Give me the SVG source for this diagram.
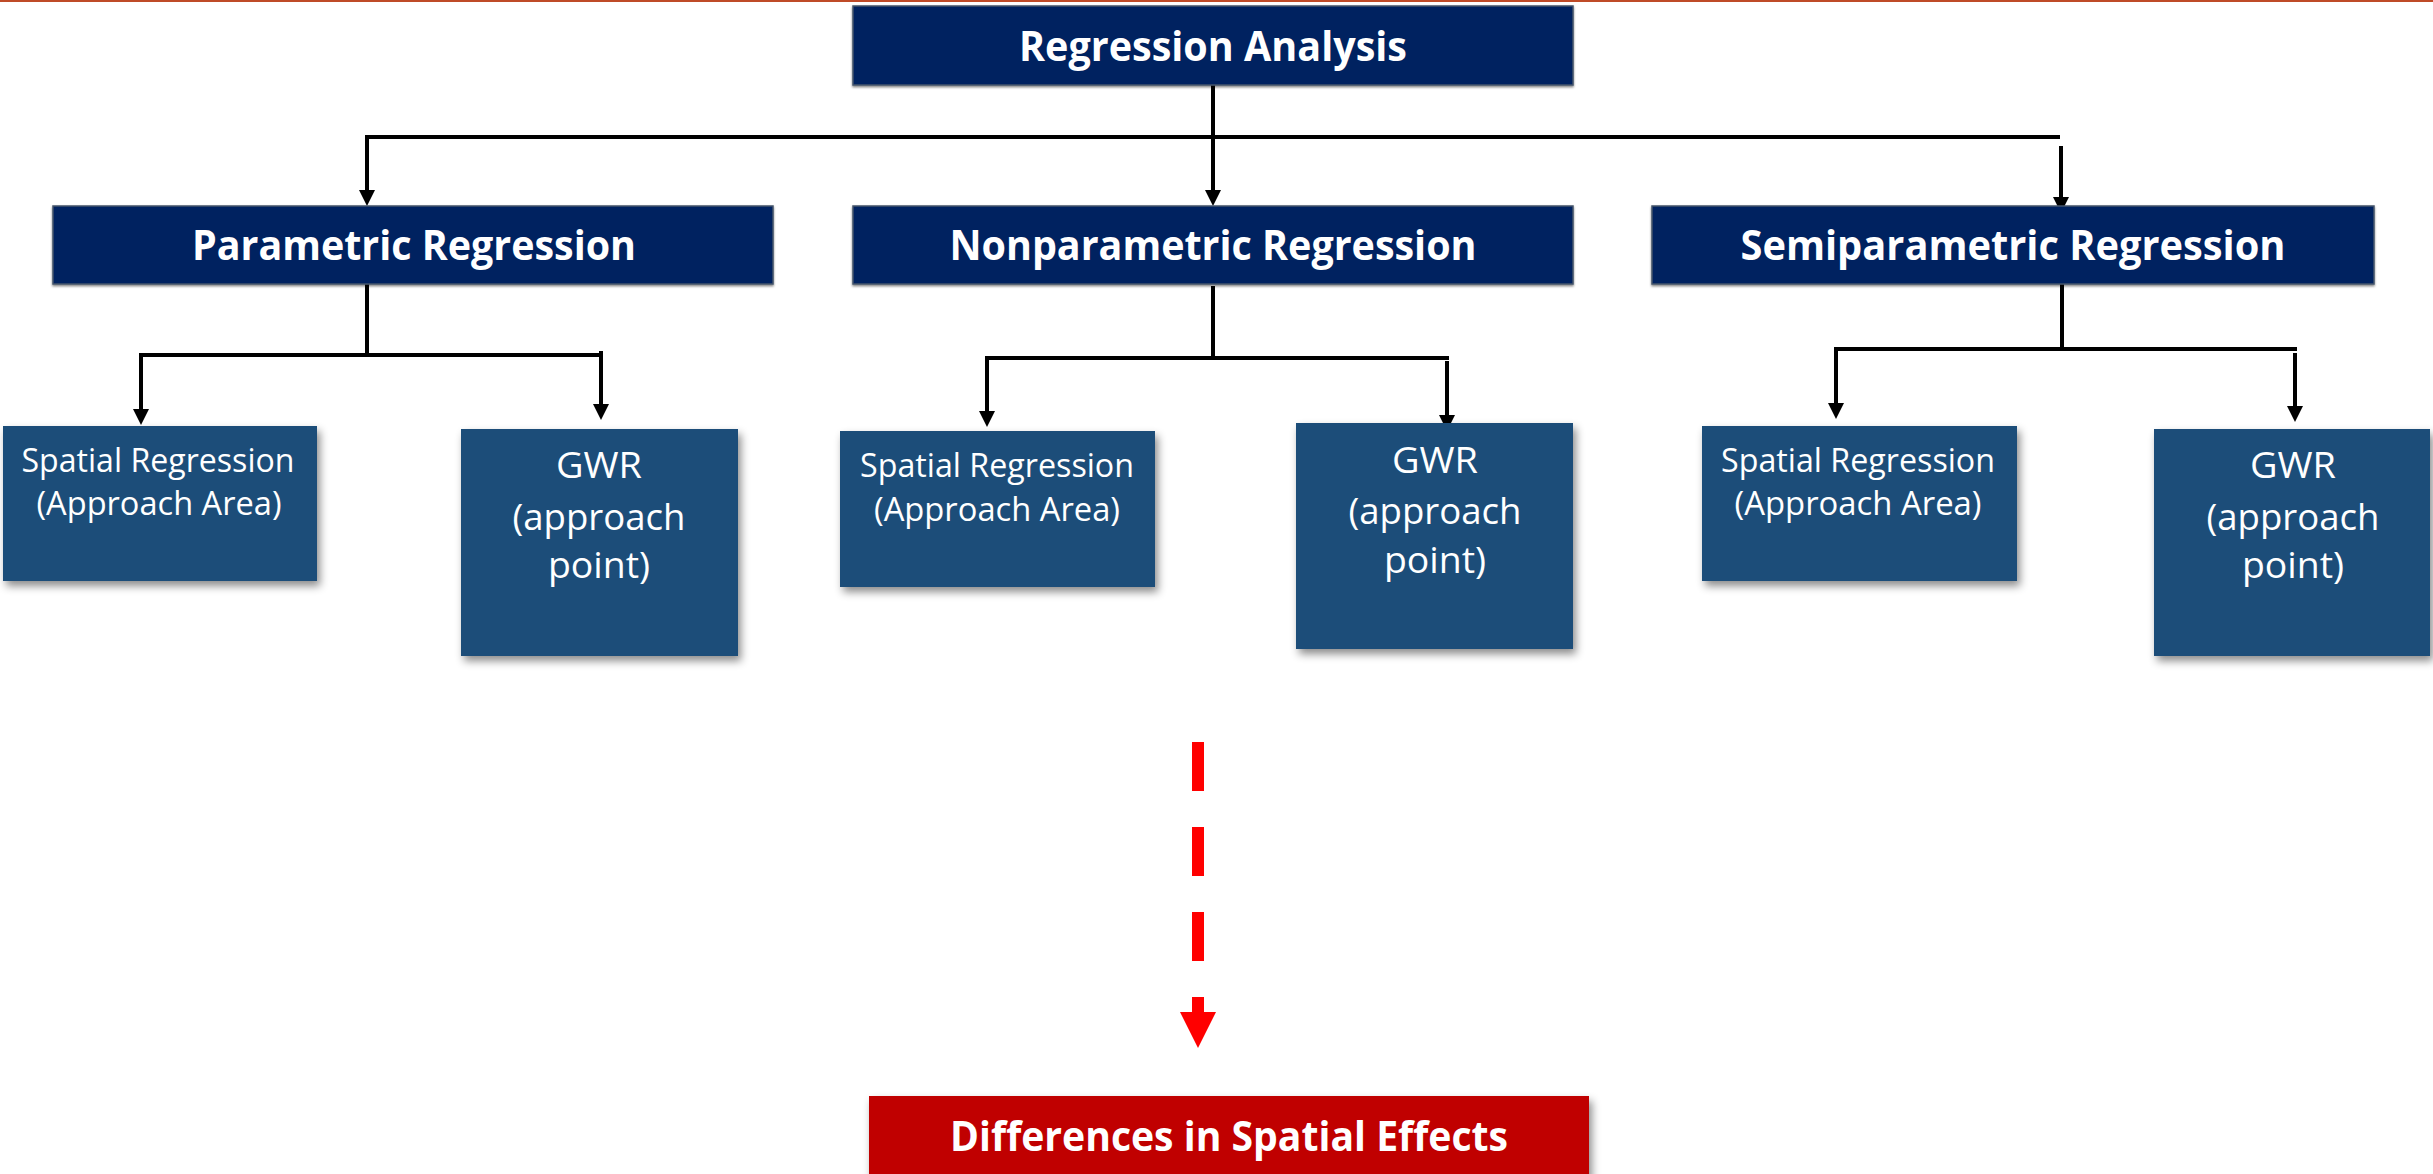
<svg xmlns="http://www.w3.org/2000/svg" width="2433" height="1174" viewBox="0 0 2433 1174">
<style>
.hdr{fill:#002060;stroke:#44546A;stroke-width:1.5}
.sub{fill:#1F4E79}
.red{fill:#C00000}
.th{font-family:"Open Sans","Liberation Sans",sans-serif;font-weight:bold;font-size:42px;fill:#FFFFFF;text-anchor:middle}
.ts{font-family:"Open Sans","Liberation Sans",sans-serif;font-size:32px;fill:#FFFFFF;text-anchor:middle}
.tg{font-family:"Open Sans","Liberation Sans",sans-serif;font-size:36px;fill:#FFFFFF;text-anchor:middle}
.c{fill:none;stroke:#000000;stroke-width:4}
.ca{fill:none;stroke:#000000;stroke-width:4;marker-end:url(#ah)}
</style>
<defs>
<marker id="ah" markerUnits="userSpaceOnUse" markerWidth="16" markerHeight="16" viewBox="0 0 16 16" refX="0" refY="8" orient="auto">
<path d="M0,0 L16,8 L0,16 z" fill="#000000"/>
</marker>
<filter id="sh" x="-10%" y="-10%" width="130%" height="130%">
<feDropShadow dx="3" dy="5" stdDeviation="4" flood-color="#000000" flood-opacity="0.45"/>
</filter>
<filter id="sh2" x="-5%" y="-10%" width="110%" height="130%">
<feDropShadow dx="0" dy="1.5" stdDeviation="1" flood-color="#000000" flood-opacity="0.5"/>
</filter>
</defs>
<rect x="0" y="0" width="2433" height="2" fill="#BF4B28"/>
<g id="connectors">
<path class="c" d="M1213,85 V137"/>
<path class="c" d="M365,137 H2060"/>
<path class="ca" d="M367,137 V190"/>
<path class="ca" d="M1213,137 V190"/>
<path class="ca" d="M2061,146 V197"/>
<path class="c" d="M367,284 V355"/>
<path class="c" d="M139,355 H603"/>
<path class="ca" d="M141,355 V409"/>
<path class="ca" d="M601,351 V404"/>
<path class="c" d="M1213,286 V358"/>
<path class="c" d="M985,358 H1449"/>
<path class="ca" d="M987,358 V411"/>
<path class="ca" d="M1447,361 V415"/>
<path class="c" d="M2062,284 V349"/>
<path class="c" d="M1834,349 H2297"/>
<path class="ca" d="M1836,349 V403"/>
<path class="ca" d="M2295,353 V406"/>
<line x1="1198" y1="742" x2="1198" y2="1012" stroke="#FF0000" stroke-width="12" stroke-dasharray="49 36"/>
<path d="M1180,1012 L1216,1012 L1198,1048 z" fill="#FF0000"/>
</g>
<g id="regression-analysis">
<rect class="hdr" x="853" y="6" width="720" height="79" filter="url(#sh2)"/>
<text class="th" x="1213" y="61" textLength="388" lengthAdjust="spacingAndGlyphs">Regression Analysis</text>
</g>
<g id="parametric">
<rect class="hdr" x="53" y="206" width="720" height="78" filter="url(#sh2)"/>
<text class="th" x="414" y="260" textLength="444" lengthAdjust="spacingAndGlyphs">Parametric Regression</text>
</g>
<g id="nonparametric">
<rect class="hdr" x="853" y="206" width="720" height="78" filter="url(#sh2)"/>
<text class="th" x="1213" y="260" textLength="527" lengthAdjust="spacingAndGlyphs">Nonparametric Regression</text>
</g>
<g id="semiparametric">
<rect class="hdr" x="1652" y="206" width="722" height="78" filter="url(#sh2)"/>
<text class="th" x="2013" y="260" textLength="545" lengthAdjust="spacingAndGlyphs">Semiparametric Regression</text>
</g>
<g id="p-spatial">
<rect class="sub" x="3" y="426" width="314" height="155" filter="url(#sh)"/>
<text class="ts" x="158" y="472" textLength="273" lengthAdjust="spacingAndGlyphs">Spatial Regression</text>
<text class="ts" x="159" y="515" textLength="245" lengthAdjust="spacingAndGlyphs">(Approach Area)</text>
</g>
<g id="p-gwr">
<rect class="sub" x="461" y="429" width="277" height="227" filter="url(#sh)"/>
<text class="tg" x="599" y="478" textLength="86" lengthAdjust="spacingAndGlyphs">GWR</text>
<text class="tg" x="599" y="530" textLength="173" lengthAdjust="spacingAndGlyphs">(approach</text>
<text class="tg" x="599" y="578" textLength="102" lengthAdjust="spacingAndGlyphs">point)</text>
</g>
<g id="n-spatial">
<rect class="sub" x="840" y="431" width="315" height="156" filter="url(#sh)"/>
<text class="ts" x="997" y="477" textLength="274" lengthAdjust="spacingAndGlyphs">Spatial Regression</text>
<text class="ts" x="997" y="521" textLength="246" lengthAdjust="spacingAndGlyphs">(Approach Area)</text>
</g>
<g id="n-gwr">
<rect class="sub" x="1296" y="423" width="277" height="226" filter="url(#sh)"/>
<text class="tg" x="1435" y="473" textLength="86" lengthAdjust="spacingAndGlyphs">GWR</text>
<text class="tg" x="1435" y="524" textLength="173" lengthAdjust="spacingAndGlyphs">(approach</text>
<text class="tg" x="1435" y="573" textLength="102" lengthAdjust="spacingAndGlyphs">point)</text>
</g>
<g id="s-spatial">
<rect class="sub" x="1702" y="426" width="315" height="155" filter="url(#sh)"/>
<text class="ts" x="1858" y="472" textLength="274" lengthAdjust="spacingAndGlyphs">Spatial Regression</text>
<text class="ts" x="1858" y="515" textLength="247" lengthAdjust="spacingAndGlyphs">(Approach Area)</text>
</g>
<g id="s-gwr">
<rect class="sub" x="2154" y="429" width="276" height="227" filter="url(#sh)"/>
<text class="tg" x="2293" y="478" textLength="86" lengthAdjust="spacingAndGlyphs">GWR</text>
<text class="tg" x="2293" y="530" textLength="173" lengthAdjust="spacingAndGlyphs">(approach</text>
<text class="tg" x="2293" y="578" textLength="102" lengthAdjust="spacingAndGlyphs">point)</text>
</g>
<g id="differences">
<rect class="red" x="869" y="1096" width="720" height="90" filter="url(#sh)"/>
<text class="th" x="1229" y="1151" textLength="558" lengthAdjust="spacingAndGlyphs">Differences in Spatial Effects</text>
</g>
</svg>
